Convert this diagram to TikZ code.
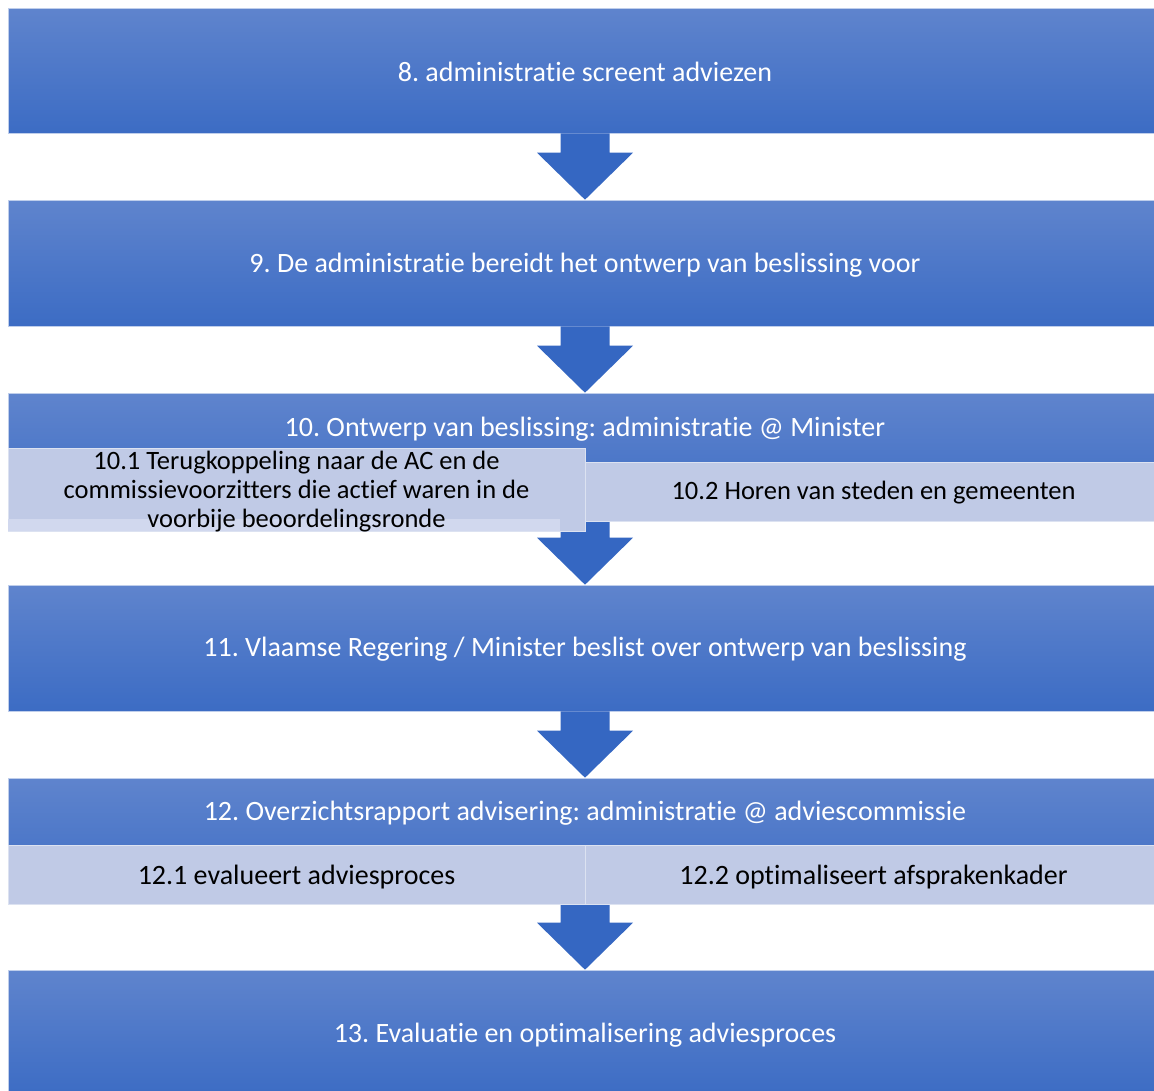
\documentclass[tikz,border=0pt]{standalone}
\usepackage{fontspec}
\setmainfont{Carlito}[Ligatures=CommonOff]
\usetikzlibrary{calc}
\frenchspacing
\definecolor{boxtop}{HTML}{5F84CD}
\definecolor{boxbot}{HTML}{3C6CC4}
\definecolor{arrowblue}{HTML}{3567C2}
\definecolor{subfill}{HTML}{C0CAE6}
\definecolor{substrip}{HTML}{D1D8EE}
\newcommand\flowarrow[2]{%
  \path let \p1=(#1.south), \p2=(#2.north) in
    [fill=arrowblue]
    (\x2-24.5pt,\y1) -- (\x2+24.5pt,\y1) -- (\x2+24.5pt,\y2+47pt) --
    (\x2+48pt,\y2+47pt) -- (\x2,\y2) -- (\x2-48pt,\y2+47pt) --
    (\x2-24.5pt,\y2+47pt) -- cycle;}
\begin{document}
\begin{tikzpicture}[x=1pt,y=-1pt,
  mainbox/.style={rectangle, inner sep=0pt, minimum width=1154pt,
    top color=boxtop, bottom color=boxbot, draw=white!60!boxtop, line width=0.6pt},
  subbox/.style={rectangle, inner sep=0pt, minimum width=577pt,
    fill=subfill, draw=white!45!subfill, line width=0.6pt},
  whitetext/.style={text=white, font=\frenchspacing\fontsize{28}{33}\selectfont},
  blacktext/.style={text=black, font=\frenchspacing\fontsize{28}{33}\selectfont, align=center},
  smalltext/.style={text=black, font=\frenchspacing\fontsize{26.5}{29}\selectfont, align=center}]
\useasboundingbox (0,0) rectangle (1154,1090);
\clip (0,0) rectangle (1154,1090);

% main boxes
\node[mainbox, minimum height=125pt] (b8)  at (585,70.5) {};
\node[mainbox, minimum height=126pt] (b9)  at (585,263) {};
\node[mainbox, minimum height=128pt] (b10) at (585,457) {};
\node[mainbox, minimum height=126pt] (b11) at (585,648) {};
\node[mainbox, minimum height=126pt] (b12) at (585,841) {};
\node[mainbox, minimum height=126pt] (b13) at (585,1033) {};

% arrows
\flowarrow{b8}{b9}
\flowarrow{b9}{b10}
\flowarrow{b10}{b11}
\flowarrow{b11}{b12}
\flowarrow{b12}{b13}

% texts of main boxes
\node[whitetext] (t8)  at (585,72) {8. administratie screent adviezen};
\node[whitetext] (t9)  at (585,265) {9. De administratie bereidt het ontwerp van beslissing voor};
\node[whitetext] (t10) at (585,429) {10. Ontwerp van beslissing: administratie @ Minister};
\node[whitetext] (t11) at (585,649) {11. Vlaamse Regering / Minister beslist over ontwerp van beslissing};
\node[whitetext] (t12) at (585,813) {12. Overzichtsrapport advisering: administratie @ adviescommissie};
\node[whitetext] (t13) at (585,1035) {13. Evaluatie en optimalisering adviesproces};

% sub boxes of step 10
\node[subbox, minimum height=59pt] (s102) at (873.5,491.5) {};
\node[subbox, minimum height=83pt] (s101) at (296.5,489.5) {};
\fill[substrip] (8,519) rectangle (560,531);
\node[smalltext] (u101) at (296.5,492) {10.1 Terugkoppeling naar de AC en de\\commissievoorzitters die actief waren in de\\voorbije beoordelingsronde};
\node[smalltext] (u102) at (873.5,493) {10.2 Horen van steden en gemeenten};

% sub boxes of step 12
\node[subbox, minimum height=59pt] (s121) at (296.5,874.5) {};
\node[subbox, minimum height=59pt] (s122) at (873.5,874.5) {};
\node[blacktext] (u121) at (296.5,877) {12.1 evalueert adviesproces};
\node[blacktext] (u122) at (873.5,877) {12.2 optimaliseert afsprakenkader};
\end{tikzpicture}
\end{document}
